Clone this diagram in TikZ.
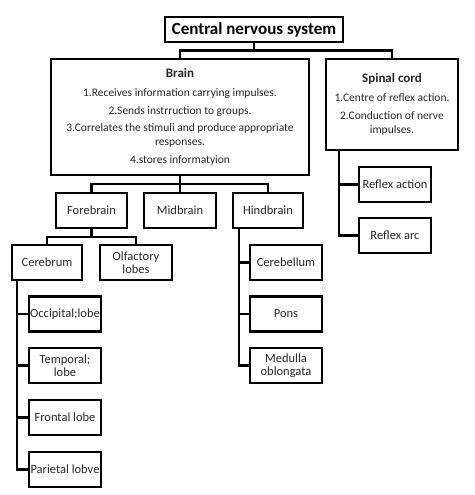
\documentclass[tikz,border=0pt]{standalone}
\usepackage{fontspec}
\setmainfont{Carlito}
\begin{document}
\begin{tikzpicture}[x=1pt, y=-1pt,
  box/.style={draw, line width=2.4pt, align=center, inner sep=0pt, minimum width=72pt, minimum height=35pt, text=black!85, font=\fontsize{12.5}{13}\selectfont},
  info/.style={box, font=\fontsize{11.5}{14}\selectfont},
  link/.style={line width=2.4pt}]

\useasboundingbox (0,0) rectangle (474,495);

\node[box, minimum width=178pt, minimum height=25pt, text=black, font=\fontsize{17}{20}\selectfont\bfseries] (cns) at (254,29.5) {Central nervous system};

\node[info, minimum width=258pt, minimum height=116pt] (brain) at (180,117)
  {{\fontsize{13}{14}\selectfont\bfseries Brain}\\[5pt]
   1.Receives information carrying impulses.\\[3.5pt]
   2.Sends instrruction to groups.\\[3.5pt]
   3.Correlates the stimuli and produce appropriate\\
   responses.\\[3.5pt]
   4.stores informatyion};
\node[info, minimum width=132pt, minimum height=91pt] (spinal) at (392,104.5)
  {{\fontsize{13}{14}\selectfont\bfseries Spinal cord}\\[5pt]
   1.Centre of reflex action.\\[3.5pt]
   2.Conduction of nerve\\
   impulses.};

\node[box, minimum width=71pt] (fore) at (91.5,210.5) {Forebrain};
\node[box] (mid) at (180,210.5) {Midbrain};
\node[box, minimum width=70pt] (hind) at (268,210.5) {Hindbrain};

\node[box, minimum width=70pt] (cerebrum) at (47,262.5) {Cerebrum};
\node[box] (olf) at (136,262.5) {Olfactory\\lobes};

\node[box] (occ) at (65,314) {Occipital;lobe};
\node[box] (temp) at (65,365.5) {Temporal;\\lobe};
\node[box] (front) at (65,417.5) {Frontal lobe};
\node[box] (pariet) at (65,469.5) {Parietal lobve};

\node[box] (cbl) at (286,262.5) {Cerebellum};
\node[box] (pons) at (286,314) {Pons};
\node[box] (medulla) at (286,365.5) {Medulla\\oblongata};

\node[box] (ract) at (395,184.5) {Reflex action};
\node[box] (rarc) at (395,235.5) {Reflex arc};

\draw[link] (cns.south) -- ++(0,7.5) coordinate (j1);
\draw[link] (brain.north) |- (j1) -| (spinal.north);

\draw[link] (brain.south) -- ++(0,7.5) coordinate (j2);
\draw[link] (fore.north) |- (j2) -| (hind.north);
\draw[link] (j2) -- (mid.north);

\draw[link] (fore.south) -- ++(0,7.5) coordinate (j3);
\draw[link] (cerebrum.north) |- (j3) -| (olf.north);

\coordinate (s1) at ([xshift=6pt]cerebrum.south west);
\foreach \b in {occ,temp,front,pariet}
  \draw[link] (s1) |- (\b.west);

\coordinate (s2) at ([xshift=7pt]hind.south west);
\foreach \b in {cbl,pons,medulla}
  \draw[link] (s2) |- (\b.west);

\coordinate (s3) at ([xshift=14pt]spinal.south west);
\foreach \b in {ract,rarc}
  \draw[link] (s3) |- (\b.west);
\end{tikzpicture}
\end{document}
